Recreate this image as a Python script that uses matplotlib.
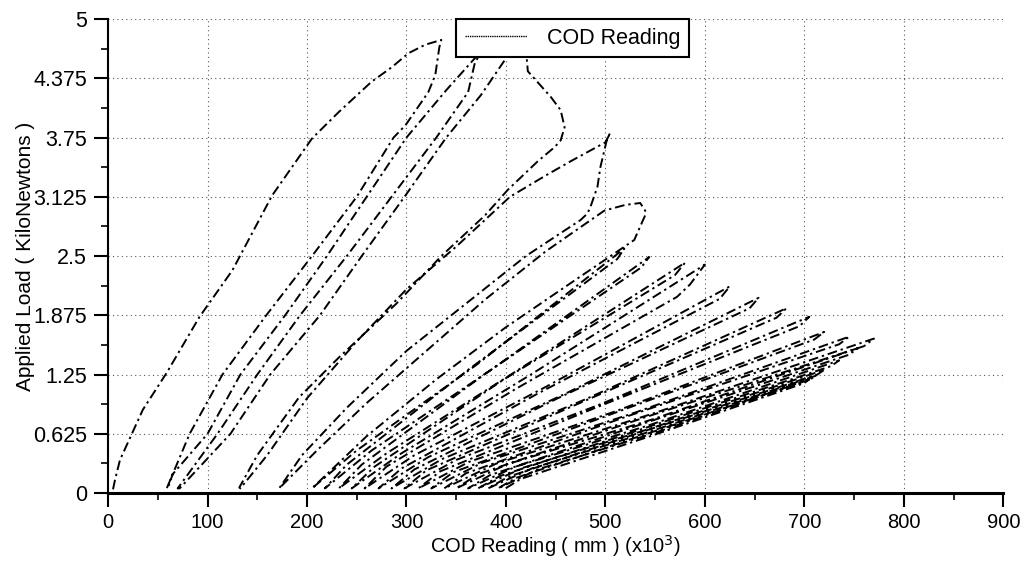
import numpy as np
import matplotlib
matplotlib.use("Agg")
import matplotlib.pyplot as plt
from matplotlib.lines import Line2D
from matplotlib.ticker import MultipleLocator

plt.rcParams['font.family'] = ['Liberation Sans', 'DejaVu Sans']

# ---- load / unload cycles: COD (mm x10^-3) and applied load (kN) ----
cod_c1 = [5, 7, 12, 35, 59, 92, 125, 165, 205, 232, 265, 285, 302, 319, 335,
          333, 329, 322, 299, 287, 250, 205, 159, 115, 82, 59]
load_c1 = [0.04, 0.14, 0.35, 0.88, 1.27, 1.86, 2.35, 3.14, 3.74, 4.02, 4.34, 4.49, 4.64, 4.73, 4.78,
           4.70, 4.41, 4.23, 3.88, 3.75, 3.125, 2.5, 1.875, 1.25, 0.625, 0.05]

cod_c2 = [60, 65, 100, 133, 178, 220, 260, 300, 340, 369, 383,
          385, 369, 362, 330, 285, 240, 193, 150, 110, 70]
load_c2 = [0.05, 0.2, 0.625, 1.25, 1.875, 2.5, 3.125, 3.75, 4.25, 4.59, 4.78,
           4.78, 4.55, 4.23, 3.75, 3.125, 2.5, 1.875, 1.25, 0.625, 0.05]

cod_c3 = [72, 123, 163, 213, 255, 298, 340, 375, 399, 412,
          420, 422, 445, 455, 459, 455, 449,
          432, 402, 379, 335, 290, 232, 192, 150, 132]
load_c3 = [0.05, 0.625, 1.25, 1.875, 2.5, 3.125, 3.75, 4.2, 4.57, 4.75,
           4.7, 4.45, 4.18, 4.04, 3.86, 3.72, 3.65,
           3.5, 3.2, 2.93, 2.5, 2.0, 1.43, 1.01, 0.4, 0.06]

cod_c4 = [133, 160, 200, 250, 300, 350, 404, 440, 465, 500, 505,
          502, 495, 492, 485, 482, 475, 459,
          420, 360, 300, 240, 195, 172]
load_c4 = [0.05, 0.4, 1.0, 1.6, 2.15, 2.6, 3.125, 3.35, 3.5, 3.7, 3.8,
           3.75, 3.44, 3.23, 3.02, 2.95, 2.88, 2.77,
           2.5, 2.0, 1.5, 0.9, 0.4, 0.05]

cod_c5 = [172, 210, 260, 320, 380, 440, 499, 520, 535,
          540, 540, 537, 529,
          470, 400, 330, 260, 205]
load_c5 = [0.05, 0.45, 0.95, 1.5, 2.05, 2.55, 2.98, 3.04, 3.06,
           2.98, 2.93, 2.86, 2.67,
           2.25, 1.75, 1.2, 0.6, 0.05]

cod_c6 = [205, 250, 370, 519, 512, 362, 240, 218]
load_c6 = [0.05, 0.45, 1.35, 2.58, 2.47, 1.3, 0.3, 0.05]

cod_c7 = [218, 265, 385, 544, 536, 378, 255, 232]
load_c7 = [0.05, 0.45, 1.3, 2.49, 2.38, 1.25, 0.3, 0.05]

cod_c8 = [232, 280, 405, 580, 570, 398, 268, 245]
load_c8 = [0.05, 0.42, 1.25, 2.43, 2.3, 1.2, 0.28, 0.05]

cod_c9 = [245, 295, 425, 600, 585, 572, 410, 280, 258]
load_c9 = [0.05, 0.42, 1.25, 2.41, 2.2, 2.07, 1.1, 0.28, 0.05]

cod_c10 = [258, 308, 440, 625, 615, 432, 295, 272]
load_c10 = [0.05, 0.4, 1.12, 2.18, 2.05, 1.05, 0.26, 0.05]

cod_c11 = [272, 322, 460, 654, 645, 452, 308, 285]
load_c11 = [0.05, 0.38, 1.05, 2.06, 1.95, 1.0, 0.25, 0.05]

cod_c12 = [285, 336, 480, 682, 672, 472, 320, 298]
load_c12 = [0.05, 0.36, 0.99, 1.95, 1.85, 0.94, 0.24, 0.05]

cod_c13 = [298, 350, 498, 705, 695, 490, 334, 312]
load_c13 = [0.05, 0.35, 0.95, 1.86, 1.76, 0.9, 0.23, 0.05]

cod_c14 = [312, 363, 512, 720, 710, 505, 347, 325]
load_c14 = [0.05, 0.33, 0.87, 1.70, 1.62, 0.83, 0.22, 0.05]

cod_c15 = [325, 376, 530, 745, 735, 522, 360, 338]
load_c15 = [0.05, 0.32, 0.85, 1.65, 1.57, 0.81, 0.21, 0.05]

cod_c16 = [338, 390, 548, 770, 760, 540, 372, 350]
load_c16 = [0.05, 0.31, 0.84, 1.63, 1.55, 0.8, 0.2, 0.05]

cod_c17 = [350, 400, 548, 754, 745, 540, 384, 362]
load_c17 = [0.05, 0.3, 0.78, 1.53, 1.46, 0.74, 0.19, 0.05]

cod_c18 = [362, 410, 545, 735, 727, 538, 394, 372]
load_c18 = [0.05, 0.28, 0.72, 1.40, 1.34, 0.68, 0.18, 0.05]

cod_c19 = [372, 418, 545, 720, 713, 538, 402, 382]
load_c19 = [0.05, 0.27, 0.68, 1.30, 1.25, 0.65, 0.17, 0.05]

cod_c20 = [382, 426, 545, 712, 706, 540, 410, 392]
load_c20 = [0.05, 0.26, 0.65, 1.24, 1.2, 0.62, 0.16, 0.05]

cod_c21 = [392, 432, 548, 705, 700, 545, 415, 398]
load_c21 = [0.05, 0.25, 0.63, 1.20, 1.16, 0.6, 0.15, 0.04]

cod_cycles = [cod_c1, cod_c2, cod_c3, cod_c4, cod_c5, cod_c6, cod_c7, cod_c8, cod_c9, cod_c10,
              cod_c11, cod_c12, cod_c13, cod_c14, cod_c15, cod_c16, cod_c17, cod_c18, cod_c19,
              cod_c20, cod_c21]
load_cycles = [load_c1, load_c2, load_c3, load_c4, load_c5, load_c6, load_c7, load_c8, load_c9,
               load_c10, load_c11, load_c12, load_c13, load_c14, load_c15, load_c16, load_c17,
               load_c18, load_c19, load_c20, load_c21]

y_ticks = [0, 0.625, 1.25, 1.875, 2.5, 3.125, 3.75, 4.375, 5]
y_tick_labels = ['0', '0.625', '1.25', '1.875', '2.5', '3.125', '3.75', '4.375', '5']
x_ticks = [0, 100, 200, 300, 400, 500, 600, 700, 800, 900]

cod = np.concatenate([np.asarray(c, float) for c in cod_cycles])
load = np.concatenate([np.asarray(l, float) for l in load_cycles])

fig = plt.figure(figsize=(10.29, 5.61), dpi=100)
ax = fig.add_axes([0.105, 0.121, 0.870, 0.845])

ax.plot(cod, load, color='black', lw=1.4, linestyle=(0, (5, 2.0, 1.2, 2.0)),
        label='COD Reading', zorder=3)

ax.set_xlim(0, 900)
ax.set_ylim(0, 5)
ax.set_xticks(x_ticks)
ax.set_yticks(y_ticks)
ax.set_yticklabels(y_tick_labels)
ax.xaxis.set_minor_locator(MultipleLocator(50))
ax.yaxis.set_minor_locator(MultipleLocator(0.3125))

ax.grid(True, which='major', color='0.35', linestyle=(0, (1, 3)), lw=0.8)
ax.set_axisbelow(True)

for side in ('top', 'right'):
    ax.spines[side].set_visible(False)
ax.spines['left'].set_linewidth(1.5)
ax.spines['bottom'].set_linewidth(2.2)

ax.tick_params(axis='both', which='major', direction='out', length=10, width=1.5)
ax.tick_params(axis='y', which='major', pad=5, labelsize=15.5)
ax.tick_params(axis='x', which='major', pad=4, labelsize=14.5)
ax.tick_params(axis='both', which='minor', direction='out', length=5, width=1.2)

ax.set_xlabel('COD Reading ( mm ) (x10$^3$)', fontsize=14.5, labelpad=1)
ax.set_ylabel('Applied Load ( KiloNewtons )', fontsize=15, labelpad=-1)

handle = Line2D([], [], color='black', lw=1.0, linestyle=(0, (1, 0.6)))
leg = ax.legend([handle], ['COD Reading'], loc='upper left', bbox_to_anchor=(0.389, 1.0),
                frameon=True, fancybox=False, framealpha=1, edgecolor='black',
                fontsize=15.5, handlelength=2.9, borderpad=0.4, handletextpad=0.9,
                borderaxespad=0)
leg.get_frame().set_linewidth(1.5)
leg.set_zorder(5)

fig.savefig('out.png', dpi=100)
